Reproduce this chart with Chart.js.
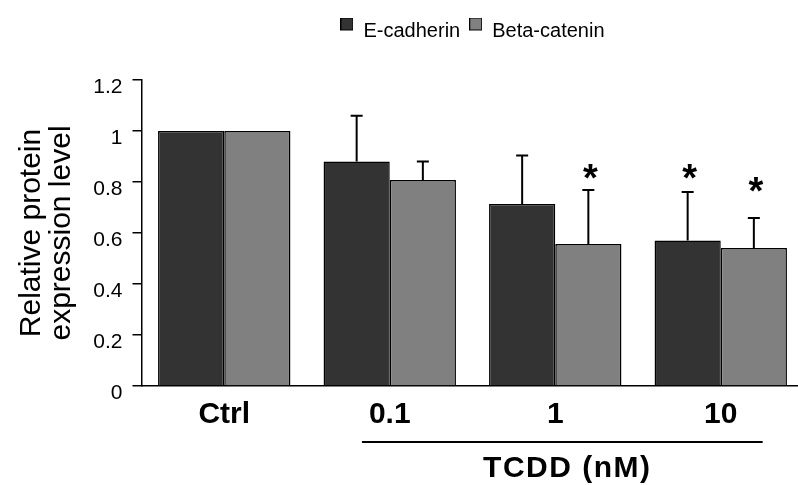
<!DOCTYPE html>
<html>
<head>
<meta charset="utf-8">
<script src="https://cdn.jsdelivr.net/npm/chart.js@4/dist/chart.umd.min.js"></script>
<style>
  html, body { margin: 0; padding: 0; background: #ffffff; overflow: hidden; }
  #wrap { width: 806px; height: 485px; }
</style>
</head>
<body>
<div id="wrap"><canvas id="c" width="806" height="485"></canvas></div>
<script>
// ---- data ----
const categories = ['Ctrl', '0.1', '1', '10'];
const seriesNames = ['E-cadherin', 'Beta-catenin'];
const ecadherin = [1.0, 0.88, 0.714, 0.571];
const ecadherinErr = [0, 0.18, 0.19, 0.19];
const betaCatenin = [1.0, 0.808, 0.557, 0.541];
const betaCateninErr = [0, 0.072, 0.212, 0.118];
const ecadherinStar = [null, null, null, 0.765];
const betaCateninStar = [null, null, 0.765, 0.714];
const yTickLabels = ['0', '0.2', '0.4', '0.6', '0.8', '1', '1.2'];
const yTitle = ['Relative protein', 'expression level'];
const groupLabel = 'TCDD (nM)';

// ---- styles ----
const FONT = '"Liberation Sans", Arial, Helvetica, sans-serif';
const DARK = '#333333';
const GRAY = '#808080';

function legendBox(color) {
  const c = document.createElement('canvas');
  c.width = 13; c.height = 27;
  const g = c.getContext('2d');
  g.fillStyle = color;
  g.fillRect(0.5, 0.5, 12, 12);
  g.strokeStyle = '#000';
  g.lineWidth = 1;
  g.strokeRect(0.5, 0.5, 12, 12);
  return c;
}
const legendImgs = [legendBox(DARK), legendBox(GRAY)];

const errs = [ecadherinErr, betaCateninErr];
const stars = [ecadherinStar, betaCateninStar];

const annotPlugin = {
  id: 'annot',
  beforeLayout(chart) {
    const lg = chart.legend;
    if (lg && !lg._gapPatched) {
      const f = lg.fit;
      lg.fit = function () { f.call(this); this.height += 29; };
      lg._gapPatched = true;
    }
  },
  afterDatasetsDraw(chart) {
    const ctx = chart.ctx;
    const ys = chart.scales.y;
    ctx.save();
    chart.data.datasets.forEach((ds, i) => {
      const meta = chart.getDatasetMeta(i);
      meta.data.forEach((el, j) => {
        const e = errs[i][j];
        if (e > 0) {
          const yTop = ys.getPixelForValue(ds.data[j] + e);
          ctx.strokeStyle = '#000';
          ctx.lineWidth = 2;
          ctx.beginPath();
          ctx.moveTo(el.x, el.y);
          ctx.lineTo(el.x, yTop);
          ctx.moveTo(el.x - 6, yTop);
          ctx.lineTo(el.x + 6, yTop);
          ctx.stroke();
        }
        const s = stars[i][j];
        if (s != null) {
          ctx.fillStyle = '#000';
          ctx.font = 'bold 38px ' + FONT;
          ctx.textAlign = 'center';
          ctx.textBaseline = 'alphabetic';
          ctx.fillText('*', el.x + 2, ys.getPixelForValue(s));
        }
      });
    });
    ctx.restore();
  },
  afterDraw(chart) {
    const ctx = chart.ctx;
    const xs = chart.scales.x;
    const w = xs.getPixelForValue(1) - xs.getPixelForValue(0);
    const x1 = xs.getPixelForValue(1) - 0.168 * w;
    const x2 = xs.getPixelForValue(3) + 0.253 * w;
    ctx.save();
    ctx.strokeStyle = '#000';
    ctx.lineWidth = 2;
    ctx.beginPath();
    ctx.moveTo(x1, 442);
    ctx.lineTo(x2, 442);
    ctx.stroke();
    ctx.fillStyle = '#000';
    ctx.font = 'bold 30px ' + FONT;
    ctx.textAlign = 'center';
    ctx.textBaseline = 'alphabetic';
    try { ctx.letterSpacing = '1.5px'; } catch (e) {}
    ctx.fillText(groupLabel, (x1 + x2) / 2 + 5, 477);
    ctx.restore();
  }
};

new Chart(document.getElementById('c'), {
  type: 'bar',
  data: {
    labels: categories,
    datasets: [
      { label: seriesNames[0], data: ecadherin, backgroundColor: DARK, borderColor: '#000', borderWidth: 1.5, borderSkipped: 'bottom' },
      { label: seriesNames[1], data: betaCatenin, backgroundColor: GRAY, borderColor: '#000', borderWidth: 1.5, borderSkipped: 'bottom' }
    ]
  },
  options: {
    responsive: false,
    animation: false,
    devicePixelRatio: 1,
    categoryPercentage: 0.8,
    barPercentage: 1.0,
    layout: { padding: { top: 12, right: 2.5, bottom: 0, left: 0 } },
    plugins: {
      tooltip: { enabled: false },
      legend: {
        position: 'top',
        fullSize: false,
        labels: {
          color: '#000',
          font: { family: FONT, size: 20 },
          usePointStyle: true,
          boxWidth: 13,
          boxHeight: 20,
          padding: 9,
          generateLabels(chart) {
            const items = Chart.defaults.plugins.legend.labels.generateLabels(chart);
            items.forEach((it, k) => { it.pointStyle = legendImgs[k]; });
            return items;
          }
        }
      }
    },
    scales: {
      x: {
        offset: true,
        grid: { display: false, drawTicks: false },
        border: { display: true, color: '#000', width: 1.5 },
        ticks: { color: '#000', font: { family: FONT, size: 30, weight: 'bold' }, padding: 11, autoSkip: false, maxRotation: 0 },
        afterFit(scale) { scale.height = 99; }
      },
      y: {
        min: 0, max: 1.2,
        ticks: {
          stepSize: 0.2,
          color: '#000',
          font: { family: FONT, size: 21 },
          padding: 10,
          labelOffset: 7,
          callback: (v, i) => yTickLabels[i]
        },
        grid: { drawOnChartArea: false, drawTicks: true, tickLength: 9, color: '#000', lineWidth: 1.5 },
        border: { display: true, color: '#000', width: 1.5 },
        title: {
          display: true,
          text: yTitle,
          color: '#000',
          font: { family: FONT, size: 30, lineHeight: 1.0 },
          padding: { top: 17, bottom: 0 }
        },
        afterFit(scale) { scale.width = 141.5; }
      }
    }
  },
  plugins: [annotPlugin]
});
</script>
</body>
</html>
